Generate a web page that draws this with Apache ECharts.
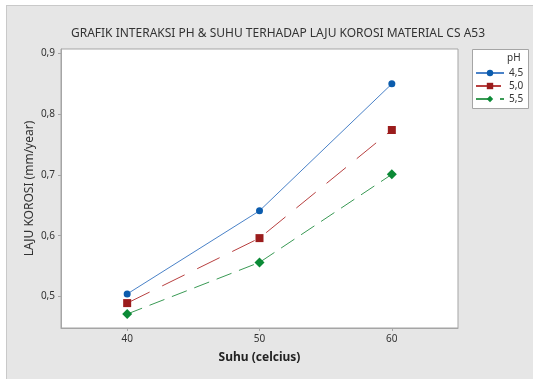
<!DOCTYPE html>
<html>
<head>
<meta charset="utf-8">
<script src="https://cdn.jsdelivr.net/npm/echarts@6/dist/echarts.min.js"></script>
<style>
html,body{margin:0;padding:0;background:#fff;}
#panel{position:absolute;left:6px;top:5px;width:540px;height:390px;background:#e6e6e6;border:1px solid #c9c9c9;}
#chart{position:absolute;left:0;top:0;width:533px;height:379px;}
</style>
</head>
<body>
<div id="panel"></div>
<div id="chart"></div>
<script>
const suhu = [40, 50, 60];
const ph45 = [0.504, 0.641, 0.850];
const ph50 = [0.489, 0.596, 0.774];
const ph55 = [0.471, 0.556, 0.701];
const seriesNames = ['4,5', '5,0', '5,5'];
const yTicks = [0.5, 0.6, 0.7, 0.8, 0.9];
const xTicks = [40, 50, 60];

const FONT = 'Noto Sans';
const chart = echarts.init(document.getElementById('chart'));
const pair = (xs, ys) => xs.map((x, i) => [x, ys[i]]);
const fmt = v => Number(v).toFixed(1).replace('.', ',');

chart.setOption({
  backgroundColor: 'transparent',
  animation: false,
  textStyle: {fontFamily: FONT},
  title: {
    text: 'GRAFIK INTERAKSI PH & SUHU TERHADAP LAJU KOROSI MATERIAL CS A53',
    left: 273, top: 23, textAlign: 'center',
    textStyle: {fontFamily: FONT, fontSize: 12, fontWeight: 'normal', color: '#333'}
  },
  grid: {left: 61, top: 49, right: 75, bottom: 51, show: true, backgroundColor: '#fff', borderColor: '#a5a5a5', borderWidth: 1},
  xAxis: {
    type: 'value', min: 35, max: 65,
    name: 'Suhu (celcius)', nameLocation: 'middle', nameGap: 24,
    nameTextStyle: {fontFamily: FONT, fontSize: 12, fontWeight: 'bold', color: '#222'},
    axisLine: {show: true, lineStyle: {color: '#a5a5a5'}},
    axisTick: {show: true, length: 3, lineStyle: {color: '#a5a5a5'}, customValues: xTicks},
    axisLabel: {fontSize: 10, color: '#333', margin: 6, customValues: xTicks},
    splitLine: {show: false}
  },
  yAxis: {
    type: 'value', min: 0.448, max: 0.9074,
    name: 'LAJU KOROSI (mm/year)', nameLocation: 'middle', nameGap: 25, nameMoveOverlap: false,
    nameTextStyle: {fontFamily: FONT, fontSize: 12, color: '#333'},
    axisLine: {show: true, lineStyle: {color: '#a5a5a5'}},
    axisTick: {show: true, length: 3, lineStyle: {color: '#a5a5a5'}, customValues: yTicks},
    axisLabel: {fontSize: 10, color: '#333', margin: 6, formatter: fmt, customValues: yTicks},
    splitLine: {show: false}
  },
  legend: {
    orient: 'vertical', left: 470, top: 62, padding: [5, 5, 5, 5],
    itemWidth: 28, itemHeight: 8, itemGap: 1,
    textStyle: {fontFamily: FONT, fontSize: 10, color: '#333', lineHeight: 12},
    data: seriesNames
  },
  graphic: [
    {type: 'rect', left: 472, top: 49, z: -1, silent: true, shape: {width: 56, height: 59}, style: {fill: '#fff', stroke: '#a5a5a5', lineWidth: 1}},
    {type: 'text', left: 507, top: 53, silent: true, style: {text: 'pH', font: '10px "Noto Sans"', fill: '#333'}}
  ],
  series: [
    {name: seriesNames[0], type: 'line', data: pair(suhu, ph45), symbol: 'circle', symbolSize: 7,
      itemStyle: {color: '#0b5cad'}, lineStyle: {color: '#4a82c8', width: 1, type: 'solid'}},
    {name: seriesNames[1], type: 'line', data: pair(suhu, ph50), symbol: 'rect', symbolSize: 8,
      itemStyle: {color: '#9b1c1c'}, lineStyle: {color: '#b84040', width: 1, type: [25, 14]}},
    {name: seriesNames[2], type: 'line', data: pair(suhu, ph55), symbol: 'diamond', symbolSize: 10,
      itemStyle: {color: '#0b8a36'}, lineStyle: {color: '#3a9a55', width: 1, type: [16, 8]}}
  ]
});
</script>
</body>
</html>
